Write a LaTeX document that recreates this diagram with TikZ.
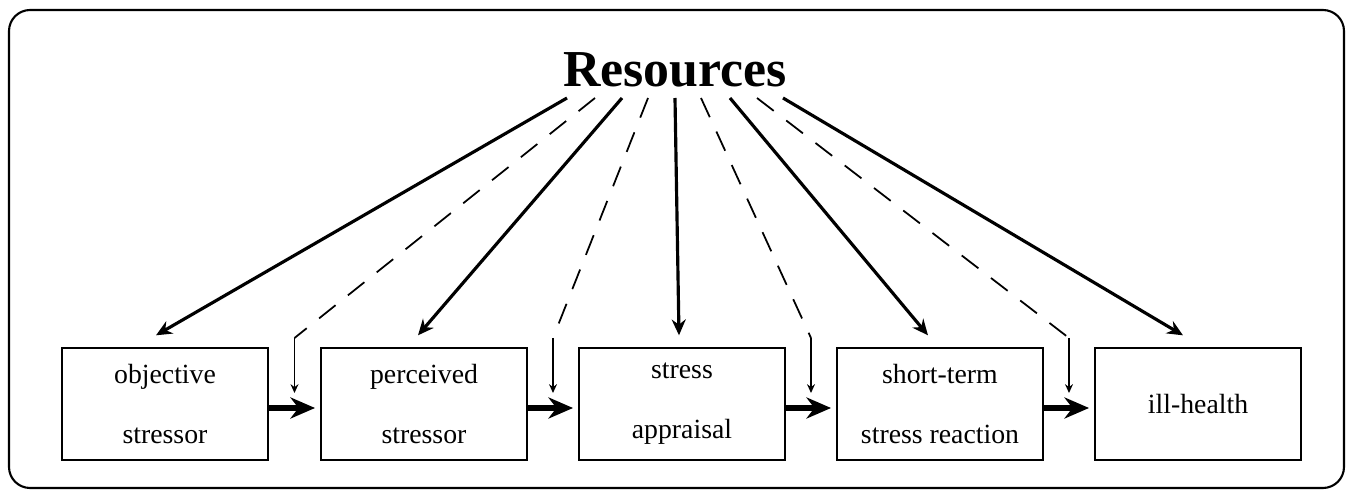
\documentclass[tikz,border=0pt]{standalone}
\usepackage{fontspec}
\setmainfont{Liberation Serif}
\usetikzlibrary{positioning, arrows.meta, calc}

\begin{document}
\begin{tikzpicture}[x=0.02cm, y=-0.02cm,
    box/.style={rectangle, draw, line width=0.8pt, minimum width=4.12cm, minimum height=2.24cm, align=center, font=\fontsize{15.8}{34}\selectfont},
    direct/.style={-{Stealth[length=9pt, width=8pt]}, line width=1.8pt},
    buffer/.style={line width=1pt, dash pattern=on 12pt off 9pt},
    drop/.style={-{Stealth[length=5pt, width=4.5pt]}, line width=0.8pt},
    flow/.style={-{Stealth[length=14pt, width=12pt]}, line width=3.2pt, shorten >=3pt}
]
    \useasboundingbox (0,0) rectangle (1350,493);
    \draw[line width=1.2pt, rounded corners=12] (9,10) rectangle (1344,488);

    \node[font=\fontsize{29.5}{36}\bfseries\selectfont, inner sep=0pt, anchor=base] (res) at (675,87) {Resources};

    \node[box] (obj) at (165,404) {objective\\stressor};
    \node[box] (per) at (424,404) {perceived\\stressor};
    \node[box] (app) at (682,404) {stress\\appraisal};
    \node[box] (str) at (940,404) {short-term\\stress reaction};
    \node[box] (ill) at (1198,404) {ill-health};

    % main chain
    \draw[flow] ($(obj.east)+(0,4)$) -- ($(per.west)+(0,4)$);
    \draw[flow] ($(per.east)+(0,4)$) -- ($(app.west)+(0,4)$);
    \draw[flow] ($(app.east)+(0,4)$) -- ($(str.west)+(0,4)$);
    \draw[flow] ($(str.east)+(0,4)$) -- ($(ill.west)+(0,4)$);

    % direct effects of resources
    \draw[direct] ($(res.base)+(-108,11)$) -- ($(obj.north)+(-9,-12)$);
    \draw[direct] ($(res.base)+(-53,11)$) -- ($(per.north)+(-6,-12)$);
    \draw[direct] ($(res.base)+(0,11)$) -- ($(app.north)+(-3,-12)$);
    \draw[direct] ($(res.base)+(55,11)$) -- ($(str.north)+(-12,-12)$);
    \draw[direct] ($(res.base)+(108,11)$) -- ($(ill.north)+(-15,-12)$);

    % moderating effects of resources
    \coordinate (t1) at ($(obj.east)!.5!(per.west)+(0,-11)$);
    \coordinate (t2) at ($(per.east)!.5!(app.west)+(0,-11)$);
    \coordinate (t3) at ($(app.east)!.5!(str.west)+(0,-11)$);
    \coordinate (t4) at ($(str.east)!.5!(ill.west)+(0,-11)$);
    \coordinate (k1) at ($(t1)+(0,-55)$);
    \coordinate (k2) at ($(t2)+(0,-55)$);
    \coordinate (k3) at ($(t3)+(0,-55)$);
    \coordinate (k4) at ($(t4)+(0,-55)$);

    \draw[buffer] ($(res.base)+(-80,11)$) -- (k1);
    \draw[buffer] ($(res.base)+(-27,11)$) -- (k2);
    \draw[buffer] ($(res.base)+(26,11)$) -- (k3);
    \draw[buffer] ($(res.base)+(82,11)$) -- (k4);
    \draw[drop] (k1) -- (t1);
    \draw[drop] (k2) -- (t2);
    \draw[drop] (k3) -- (t3);
    \draw[drop] (k4) -- (t4);
\end{tikzpicture}
\end{document}
